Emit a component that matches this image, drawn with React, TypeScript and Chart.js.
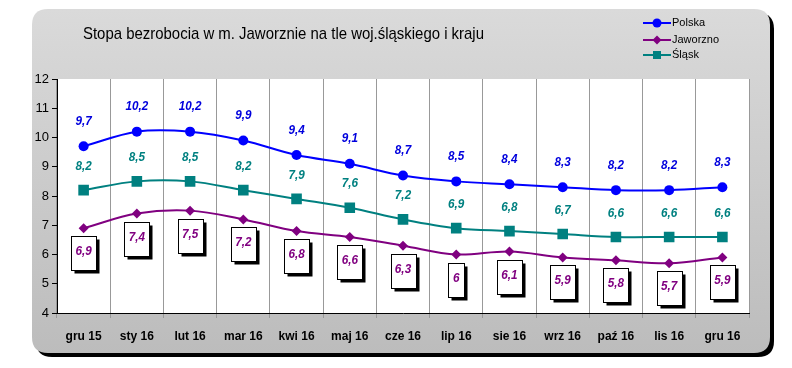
import React, { useEffect, useRef } from "react";
import { Chart, registerables } from "chart.js";

Chart.register(...registerables);

const categories = ["gru 15", "sty 16", "lut 16", "mar 16", "kwi 16", "maj 16", "cze 16", "lip 16", "sie 16", "wrz 16", "paź 16", "lis 16", "gru 16"];
const polska = [9.7, 10.2, 10.2, 9.9, 9.4, 9.1, 8.7, 8.5, 8.4, 8.3, 8.2, 8.2, 8.3];
const jaworzno = [6.9, 7.4, 7.5, 7.2, 6.8, 6.6, 6.3, 6.0, 6.1, 5.9, 5.8, 5.7, 5.9];
const slask = [8.2, 8.5, 8.5, 8.2, 7.9, 7.6, 7.2, 6.9, 6.8, 6.7, 6.6, 6.6, 6.6];
const yMin = 4;
const yMax = 12;
const titleText = "Stopa bezrobocia w m. Jaworznie na tle woj.śląskiego i kraju";
const seriesNames = ["Polska", "Jaworzno", "Śląsk"];

const BLUE = "#0000ff";
const BLUE_TXT = "#0000dd";
const PURPLE = "#800080";
const TEAL = "#008080";
const LABEL_SCALE = 0.9;

const fmt = (v: number) => (Number.isInteger(v) ? String(v) : String(v).replace(".", ","));

function roundRectPath(ctx: CanvasRenderingContext2D, x: number, y: number, w: number, h: number, r: number) {
  ctx.beginPath();
  ctx.moveTo(x + r, y);
  ctx.lineTo(x + w - r, y);
  ctx.quadraticCurveTo(x + w, y, x + w, y + r);
  ctx.lineTo(x + w, y + h - r);
  ctx.quadraticCurveTo(x + w, y + h, x + w - r, y + h);
  ctx.lineTo(x + r, y + h);
  ctx.quadraticCurveTo(x, y + h, x, y + h - r);
  ctx.lineTo(x, y + r);
  ctx.quadraticCurveTo(x, y, x + r, y);
  ctx.closePath();
}

function narrowText(ctx: CanvasRenderingContext2D, t: string, x: number, y: number) {
  ctx.save();
  ctx.translate(x, y);
  ctx.scale(LABEL_SCALE, 1);
  ctx.fillText(t, 0, 0);
  ctx.restore();
}

const framePlugin = {
  id: "frame",
  beforeDraw(chart: any) {
    const ctx: CanvasRenderingContext2D = chart.ctx;
    const ca = chart.chartArea;
    ctx.save();
    roundRectPath(ctx, 36, 13, 738, 344, 16);
    ctx.fillStyle = "#000";
    ctx.fill();
    const g = ctx.createLinearGradient(0, 9, 0, 353);
    g.addColorStop(0, "#dadada");
    g.addColorStop(1, "#bcbcbc");
    roundRectPath(ctx, 32, 9, 738, 344, 16);
    ctx.fillStyle = g;
    ctx.fill();
    ctx.fillStyle = "#fff";
    ctx.fillRect(ca.left, ca.top, ca.right - ca.left, ca.bottom - ca.top);

    ctx.font = '17px "Liberation Sans", Arial, sans-serif';
    ctx.fillStyle = "#000";
    ctx.textBaseline = "middle";
    ctx.textAlign = "left";
    const tw = ctx.measureText(titleText).width;
    ctx.translate(83, 34);
    ctx.scale(401 / tw, 1);
    ctx.fillText(titleText, 0, 0);
    ctx.restore();

    ctx.save();
    const colors = [BLUE, PURPLE, TEAL];
    const rows = [23, 40, 55];
    ctx.font = '11px "Liberation Sans", Arial, sans-serif';
    ctx.textBaseline = "middle";
    for (let i = 0; i < 3; i++) {
      const y = rows[i];
      ctx.strokeStyle = colors[i];
      ctx.fillStyle = colors[i];
      ctx.lineWidth = 2;
      ctx.beginPath();
      ctx.moveTo(643, y);
      ctx.lineTo(671, y);
      ctx.stroke();
      ctx.beginPath();
      if (i === 0) {
        ctx.arc(657, y, 4.5, 0, Math.PI * 2);
        ctx.fill();
      } else if (i === 1) {
        ctx.moveTo(657, y - 4.5);
        ctx.lineTo(661.5, y);
        ctx.lineTo(657, y + 4.5);
        ctx.lineTo(652.5, y);
        ctx.closePath();
        ctx.fill();
      } else {
        ctx.fillRect(653, y - 4, 8, 8);
      }
      ctx.fillStyle = "#000";
      ctx.fillText(seriesNames[i], 672, y);
    }
    ctx.restore();
  },
  afterDatasetsDraw(chart: any) {
    const ctx: CanvasRenderingContext2D = chart.ctx;
    ctx.save();
    ctx.font = 'bold italic 13px "Liberation Sans", Arial, sans-serif';
    ctx.textAlign = "center";
    ctx.textBaseline = "middle";
    const mp = chart.getDatasetMeta(0);
    const mj = chart.getDatasetMeta(1);
    const ms = chart.getDatasetMeta(2);
    polska.forEach((v, i) => {
      const p = mp.data[i];
      ctx.fillStyle = BLUE_TXT;
      narrowText(ctx, fmt(v), p.x, p.y - 25);
    });
    slask.forEach((v, i) => {
      const p = ms.data[i];
      ctx.fillStyle = TEAL;
      narrowText(ctx, fmt(v), p.x, p.y - 24);
    });
    jaworzno.forEach((v, i) => {
      const p = mj.data[i];
      const t = fmt(v);
      const w = Math.round(ctx.measureText(t).width * LABEL_SCALE + 9);
      const h = 34;
      const left = Math.round(p.x - w / 2) + 0.5;
      const top = Math.round(p.y + 8) + 0.5;
      ctx.fillStyle = "#000";
      ctx.fillRect(left + 3, top + 3, w, h);
      ctx.fillStyle = "#fff";
      ctx.fillRect(left, top, w, h);
      ctx.strokeStyle = "#000";
      ctx.lineWidth = 1;
      ctx.strokeRect(left, top, w, h);
      ctx.fillStyle = PURPLE;
      narrowText(ctx, t, p.x, top + 15);
    });
    ctx.restore();
  },
};

export default function App() {
  const ref = useRef<HTMLCanvasElement>(null);
  useEffect(() => {
    if (!ref.current) return;
    const chart = new Chart(ref.current, {
      type: "line",
      data: {
        labels: categories,
        datasets: [
          {
            label: seriesNames[0],
            data: polska,
            borderColor: BLUE,
            backgroundColor: BLUE,
            borderWidth: 2,
            pointStyle: "circle",
            pointRadius: 5,
            pointBorderWidth: 0,
            tension: 0.35,
          },
          {
            label: seriesNames[1],
            data: jaworzno,
            borderColor: PURPLE,
            backgroundColor: PURPLE,
            borderWidth: 2,
            pointStyle: "rectRot",
            pointRadius: 5,
            pointBorderWidth: 0,
            tension: 0.35,
          },
          {
            label: seriesNames[2],
            data: slask,
            borderColor: TEAL,
            backgroundColor: TEAL,
            borderWidth: 2,
            pointStyle: "rect",
            pointRadius: 7.5,
            pointBorderWidth: 0,
            tension: 0.35,
          },
        ],
      },
      options: {
        responsive: false,
        animation: false,
        events: [],
        layout: { padding: { left: 0, top: 79, right: 43, bottom: 0 } },
        plugins: { legend: { display: false }, title: { display: false }, tooltip: { enabled: false } },
        scales: {
          x: {
            offset: true,
            afterFit: (s: any) => {
              s.height = 55;
            },
            grid: { offset: true, color: "#999999", lineWidth: 1, tickLength: 5, drawOnChartArea: true },
            border: { color: "#000", width: 1 },
            ticks: {
              color: "#000",
              font: { family: '"Liberation Sans", Arial, sans-serif', size: 12, weight: "bold" },
              padding: 11,
              maxRotation: 0,
              autoSkip: false,
            },
          },
          y: {
            min: yMin,
            max: yMax,
            afterFit: (s: any) => {
              s.width = 57;
            },
            grid: { drawOnChartArea: false, color: "#000", tickLength: 5 },
            border: { color: "#000", width: 1 },
            ticks: {
              stepSize: 1,
              color: "#000",
              padding: 3,
              font: { family: '"Liberation Sans", Arial, sans-serif', size: 13 },
            },
          },
        },
      },
      plugins: [framePlugin],
    });
    return () => chart.destroy();
  }, []);
  return (
    <div style={{ position: "fixed", left: 0, top: 0, width: 792, height: 368 }}>
      <canvas ref={ref} width={792} height={368} />
    </div>
  );
}
